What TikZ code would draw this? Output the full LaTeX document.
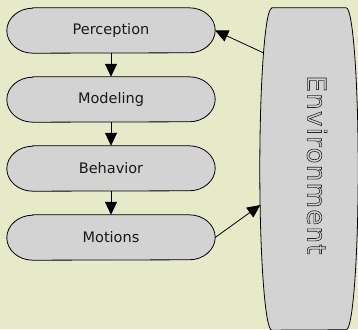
\documentclass[tikz,border=0pt]{standalone}
\usepackage{fontspec}
\setmainfont{DejaVu Sans}
\newfontfamily\envfont[LetterSpace=5]{DejaVu Sans}
\usetikzlibrary{arrows.meta,backgrounds}
\definecolor{bgc}{HTML}{E6EAC9}
\definecolor{boxc}{HTML}{D3D3D3}
\newcommand\stadiumH[1]{%
  \filldraw[shp] ([xshift=26pt]#1.north west) -- ([xshift=-26pt]#1.north east)
    arc[start angle=90,end angle=-90,x radius=26,y radius=22.5]
    -- ([xshift=26pt]#1.south west)
    arc[start angle=270,end angle=90,x radius=26,y radius=22.5] -- cycle;}
\begin{document}
\begin{tikzpicture}[x=1pt,y=1pt,
  lbl/.style={font=\fontsize{14.5}{17}\selectfont, text=black!90, inner sep=0pt,
              minimum width=208pt, minimum height=45pt},
  shp/.style={fill=boxc, draw=black, line width=0.8pt},
  arr/.style={-{Triangle[width=12pt,length=13pt]}, line width=0.8pt, draw=black}]
\useasboundingbox (0,0) rectangle (358,329);
\node[lbl] (p) at (111,298.5) {Perception};
\node[lbl] (m) at (111,229.5) {Modeling};
\node[lbl] (b) at (111,160.5) {Behavior};
\node[lbl] (mo) at (111,91.5) {Motions};
\node[inner sep=0pt, minimum width=98pt, minimum height=322pt] (env) at (309,160) {};
\node[rotate=-90, inner sep=0pt, text=black!85,
      font=\envfont\fontsize{26}{30}\selectfont] (envt) at (317,164)
  {\special{pdf:literal direct 1 Tr 0.6 w}Environment\special{pdf:literal direct 0 Tr}};
\coordinate (e1) at (263.7,276);
\coordinate (e2) at (260.3,124);
\begin{scope}[on background layer]
  \fill[bgc] (0,0) rectangle (358,329);
  \stadiumH{p}
  \stadiumH{m}
  \stadiumH{b}
  \stadiumH{mo}
  \filldraw[shp] ([xshift=12pt]env.north west) -- ([xshift=-12pt]env.north east)
    arc[start angle=90,end angle=-90,x radius=12,y radius=161]
    -- ([xshift=12pt]env.south west)
    arc[start angle=270,end angle=90,x radius=12,y radius=161] -- cycle;
\end{scope}
\draw[arr] (p) -- (m);
\draw[arr] (m) -- (b);
\draw[arr] (b) -- (mo);
\draw[arr] (e1) -- (p.east);
\draw[arr] (mo.east) -- (e2);
\end{tikzpicture}
\end{document}
